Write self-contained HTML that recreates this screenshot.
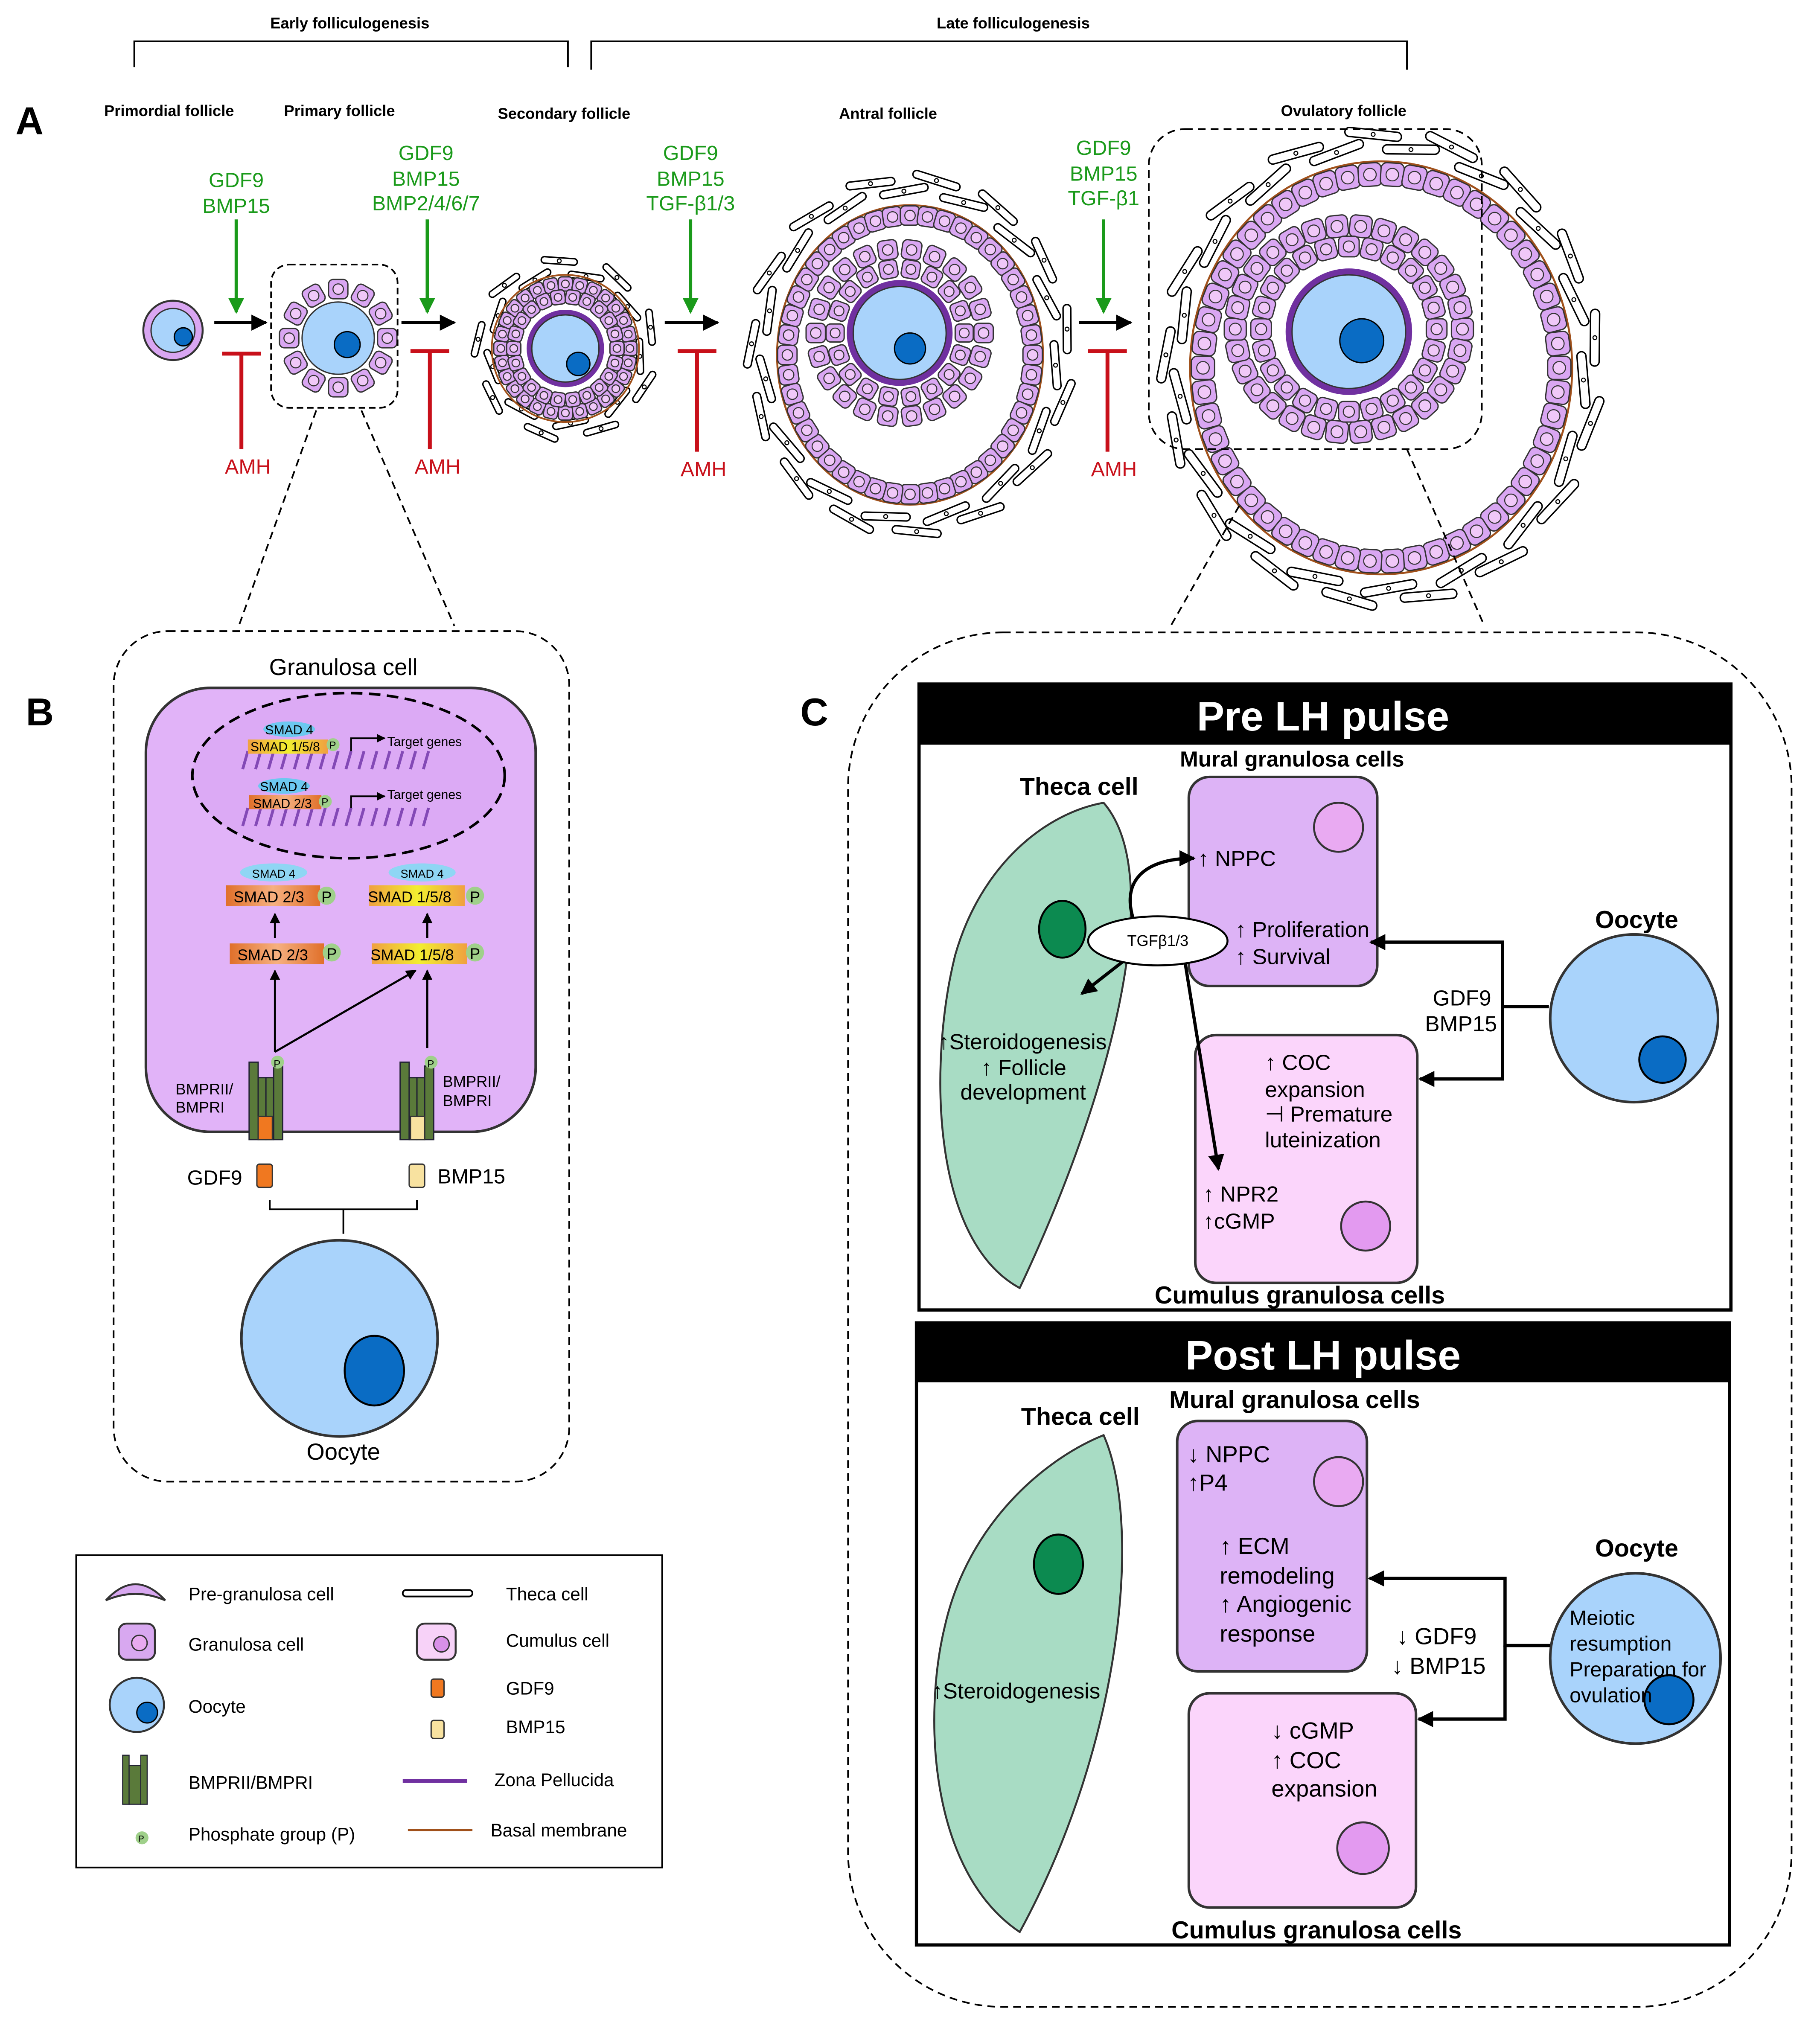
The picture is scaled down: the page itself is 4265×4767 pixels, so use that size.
<!DOCTYPE html>
<html><head><meta charset="utf-8">
<style>
html,body{margin:0;padding:0;background:#fff;}
svg{display:block;}
text{font-family:"Liberation Sans",Arial,sans-serif;}
</style></head>
<body>
<svg id="s" xmlns="http://www.w3.org/2000/svg" width="4265" height="4767" viewBox="0 0 1410 1576">
<defs>
<marker id="ah" viewBox="0 0 10 10" refX="9" refY="5" markerWidth="5" markerHeight="5" orient="auto-start-reverse"><path d="M0,0 L10,5 L0,10 z" fill="#000"/></marker>
<marker id="ahg" viewBox="0 0 10 10" refX="9" refY="5" markerWidth="5" markerHeight="5" orient="auto"><path d="M0,0 L10,5 L0,10 z" fill="#1a9a1a"/></marker>
<linearGradient id="og" x1="0" x2="1"><stop offset="0" stop-color="#e0702a"/><stop offset=".5" stop-color="#f6b080"/><stop offset="1" stop-color="#e0702a"/></linearGradient>
<linearGradient id="yg" x1="0" x2="1"><stop offset="0" stop-color="#f0a040"/><stop offset=".5" stop-color="#f2ee30"/><stop offset="1" stop-color="#f0a040"/></linearGradient>
</defs>

<g font-size="12" font-weight="bold" text-anchor="middle">
<text x="271" y="22">Early folliculogenesis</text>
<text x="785" y="22">Late folliculogenesis</text>
<text x="131" y="90">Primordial follicle</text>
<text x="263" y="90">Primary follicle</text>
<text x="437" y="92">Secondary follicle</text>
<text x="688" y="92">Antral follicle</text>
<text x="1041" y="90">Ovulatory  follicle</text>
</g>
<path d="M104,52 V32 H440 V52 M458,54 V32 H1090 V54" fill="none" stroke="#000" stroke-width="1.3"/>
<text x="12" y="104" font-size="30" font-weight="bold">A</text>

<g stroke="#000" stroke-width="2.5" marker-end="url(#ah)">
<line x1="166" y1="250" x2="206" y2="250"/>
<line x1="311" y1="250" x2="352" y2="250"/>
<line x1="515" y1="250" x2="556" y2="250"/>
<line x1="836" y1="250" x2="876" y2="250"/>
</g>
<g stroke="#1a9a1a" stroke-width="2.5" marker-end="url(#ahg)">
<line x1="183" y1="170" x2="183" y2="242"/>
<line x1="331" y1="170" x2="331" y2="242"/>
<line x1="535" y1="170" x2="535" y2="242"/>
<line x1="855" y1="170" x2="855" y2="242"/>
</g>
<g fill="#1a9a1a" font-size="16" text-anchor="middle">
<text x="183" y="145">GDF9</text><text x="183" y="165">BMP15</text>
<text x="330" y="124">GDF9</text><text x="330" y="144">BMP15</text><text x="330" y="163">BMP2/4/6/7</text>
<text x="535" y="124">GDF9</text><text x="535" y="144">BMP15</text><text x="535" y="163">TGF-β1/3</text>
<text x="855" y="120">GDF9</text><text x="855" y="140">BMP15</text><text x="855" y="159">TGF-β1</text>
</g>
<g stroke="#c8101a" stroke-width="3">
<path d="M172,274 H202 M187,274 V348"/>
<path d="M318,272 H348 M333,272 V348"/>
<path d="M525,272 H555 M540,272 V350"/>
<path d="M843,272 H873 M858,272 V350"/>
</g>
<g fill="#c8101a" font-size="16" text-anchor="middle">
<text x="192" y="367">AMH</text><text x="339" y="367">AMH</text><text x="545" y="369">AMH</text><text x="863" y="369">AMH</text>
</g>

<g id="foll"></g>

<rect x="210" y="205" width="98" height="111" rx="14" fill="none" stroke="#000" stroke-dasharray="5,3" stroke-width="1.3"/>
<rect x="890" y="100" width="258" height="248" rx="28" fill="none" stroke="#000" stroke-dasharray="6,4" stroke-width="1.3"/>
<g stroke="#000" stroke-dasharray="6,4" stroke-width="1.3">
<line x1="245" y1="318" x2="185" y2="485"/><line x1="280" y1="318" x2="352" y2="485"/>
<line x1="960" y1="392" x2="907" y2="485"/><line x1="1090" y1="348" x2="1150" y2="485"/>
</g>

<text x="20" y="562" font-size="30" font-weight="bold">B</text>
<rect x="88" y="489" width="353" height="659" rx="42" fill="none" stroke="#000" stroke-dasharray="6,4" stroke-width="1.3"/>
<text x="266" y="523" font-size="18" text-anchor="middle">Granulosa cell</text>
<rect x="113" y="533" width="302" height="344" rx="50" fill="#e1b3f8" stroke="#333" stroke-width="2"/>
<ellipse cx="270" cy="601" rx="121" ry="64" fill="#dcaaf5" stroke="#000" stroke-width="2" stroke-dasharray="9,5"/>
<g stroke="#7a3fb0" stroke-width="2.2" fill="none" opacity=".9">
<path d="M188,596 l4,-14 m6,14 l4,-14 m6,14 l4,-14 m6,14 l4,-14 m6,14 l4,-14 m6,14 l4,-14 m6,14 l4,-14 m6,14 l4,-14 m6,14 l4,-14 m6,14 l4,-14 m6,14 l4,-14 m6,14 l4,-14 m6,14 l4,-14 m6,14 l4,-14 m6,14 l4,-14"/>
<path d="M188,640 l4,-14 m6,14 l4,-14 m6,14 l4,-14 m6,14 l4,-14 m6,14 l4,-14 m6,14 l4,-14 m6,14 l4,-14 m6,14 l4,-14 m6,14 l4,-14 m6,14 l4,-14 m6,14 l4,-14 m6,14 l4,-14 m6,14 l4,-14 m6,14 l4,-14 m6,14 l4,-14"/>
</g>
<ellipse cx="224" cy="565" rx="20" ry="6" fill="#6cc8f0"/><text x="224" y="569" font-size="10" text-anchor="middle">SMAD 4</text>
<rect x="192" y="573" width="62" height="11" fill="url(#yg)"/><text x="194" y="582" font-size="10">SMAD 1/5/8</text>
<circle cx="258" cy="577" r="5" fill="#9fd08a"/><text x="255" y="580" font-size="8">P</text>
<path d="M272,582 V572 H298" stroke="#000" stroke-width="1.3" fill="none" marker-end="url(#ah)"/>
<text x="300" y="578" font-size="10">Target genes</text>
<ellipse cx="220" cy="609" rx="20" ry="6" fill="#6cc8f0"/><text x="220" y="613" font-size="10" text-anchor="middle">SMAD 4</text>
<rect x="193" y="616" width="56" height="11" fill="url(#og)"/><text x="196" y="626" font-size="10">SMAD 2/3</text>
<circle cx="252" cy="621" r="5" fill="#9fd08a"/><text x="249" y="624" font-size="8">P</text>
<path d="M272,626 V617 H298" stroke="#000" stroke-width="1.3" fill="none" marker-end="url(#ah)"/>
<text x="300" y="619" font-size="10">Target genes</text>

<ellipse cx="212" cy="676" rx="26" ry="7" fill="#8fd6f4"/><text x="212" y="680" font-size="9" text-anchor="middle">SMAD 4</text>
<ellipse cx="327" cy="676" rx="26" ry="7" fill="#8fd6f4"/><text x="327" y="680" font-size="9" text-anchor="middle">SMAD 4</text>
<rect x="175" y="686" width="73" height="16" fill="url(#og)"/><text x="181" y="699" font-size="12">SMAD 2/3</text>
<circle cx="253" cy="694" r="7" fill="#9fd08a"/><text x="249" y="699" font-size="12">P</text>
<rect x="286" y="686" width="74" height="16" fill="url(#yg)"/><text x="285" y="699" font-size="12">SMAD 1/5/8</text>
<circle cx="368" cy="694" r="7" fill="#9fd08a"/><text x="364" y="699" font-size="12">P</text>
<rect x="178" y="731" width="73" height="16" fill="url(#og)"/><text x="184" y="744" font-size="12">SMAD 2/3</text>
<circle cx="257" cy="738" r="7" fill="#9fd08a"/><text x="253" y="743" font-size="12">P</text>
<rect x="288" y="731" width="74" height="16" fill="url(#yg)"/><text x="287" y="744" font-size="12">SMAD 1/5/8</text>
<circle cx="368" cy="738" r="7" fill="#9fd08a"/><text x="364" y="743" font-size="12">P</text>
<g stroke="#000" stroke-width="1.6" marker-end="url(#ah)">
<line x1="213" y1="727" x2="213" y2="708"/><line x1="331" y1="727" x2="331" y2="708"/>
<line x1="213" y1="815" x2="213" y2="752"/><line x1="213" y1="815" x2="322" y2="752"/><line x1="331" y1="812" x2="331" y2="752"/>
</g>
<g fill="#5a7a3a" stroke="#223" stroke-width="1">
<rect x="193" y="823" width="7" height="60"/><rect x="200" y="835" width="6" height="48"/><rect x="206" y="835" width="6" height="48"/><rect x="212" y="826" width="7" height="57"/>
<rect x="310" y="823" width="7" height="60"/><rect x="317" y="835" width="6" height="48"/><rect x="323" y="835" width="6" height="48"/><rect x="329" y="826" width="7" height="57"/>
</g>
<rect x="200" y="865" width="11" height="18" fill="#f07820" stroke="#333"/>
<rect x="318" y="865" width="11" height="18" fill="#f8e2a0" stroke="#333"/>
<circle cx="215" cy="823" r="5" fill="#9fd08a"/><text x="212" y="827" font-size="8">P</text>
<circle cx="334" cy="823" r="5" fill="#9fd08a"/><text x="331" y="827" font-size="8">P</text>
<text x="136" y="848" font-size="12">BMPRII/</text><text x="136" y="862" font-size="12">BMPRI</text>
<text x="343" y="842" font-size="12">BMPRII/</text><text x="343" y="857" font-size="12">BMPRI</text>
<rect x="199" y="902" width="12" height="18" rx="2" fill="#f07820" stroke="#333"/>
<rect x="317" y="902" width="12" height="18" rx="2" fill="#f8e2a0" stroke="#333"/>
<text x="145" y="918" font-size="16">GDF9</text><text x="339" y="917" font-size="16">BMP15</text>
<path d="M209,930 V937 H323 V930 M266,937 V956" fill="none" stroke="#000" stroke-width="1.3"/>
<circle cx="263" cy="1037" r="76" fill="#a9d3fb" stroke="#333" stroke-width="2"/>
<ellipse cx="290" cy="1062" rx="23" ry="27" fill="#0a6cc4" stroke="#000" stroke-width="1.5"/>
<text x="266" y="1131" font-size="18" text-anchor="middle">Oocyte</text>

<rect x="59" y="1205" width="454" height="242" fill="#fff" stroke="#000" stroke-width="1.3"/>
<path d="M82,1240 Q105,1215 128,1240 Q105,1230 82,1240 z" fill="#d8a8f0" stroke="#333" stroke-width="1.5"/>
<rect x="92" y="1258" width="28" height="28" rx="6" fill="#d8a8f0" stroke="#333" stroke-width="1.5"/><circle cx="108" cy="1273" r="6" fill="#e8aaf0" stroke="#333"/>
<circle cx="106" cy="1321" r="21" fill="#a9d3fb" stroke="#333" stroke-width="1.5"/><circle cx="114" cy="1327" r="8" fill="#0a6cc4" stroke="#000"/>
<rect x="95" y="1360" width="5" height="38" fill="#5a7a3a" stroke="#223" stroke-width=".8"/><rect x="100" y="1368" width="9" height="30" fill="#5a7a3a" stroke="#223" stroke-width=".8"/><rect x="109" y="1360" width="5" height="38" fill="#5a7a3a" stroke="#223" stroke-width=".8"/>
<circle cx="110" cy="1424" r="5" fill="#9fd08a"/><text x="107" y="1427" font-size="7">P</text>
<rect x="312" y="1232" width="54" height="5" rx="2.5" fill="#fff" stroke="#000" stroke-width="1.3"/>
<rect x="323" y="1258" width="30" height="28" rx="6" fill="#f7d2f8" stroke="#333" stroke-width="1.5"/><circle cx="342" cy="1274" r="6" fill="#d890e8" stroke="#333"/>
<rect x="334" y="1301" width="10" height="14" rx="2" fill="#f07820" stroke="#333"/>
<rect x="334" y="1333" width="10" height="14" rx="2" fill="#f8e2a0" stroke="#333"/>
<line x1="312" y1="1380" x2="362" y2="1380" stroke="#7030a0" stroke-width="3"/>
<line x1="316" y1="1418" x2="366" y2="1418" stroke="#a0501a" stroke-width="1.5"/>
<g font-size="14">
<text x="146" y="1240">Pre-granulosa cell</text><text x="146" y="1279">Granulosa cell</text><text x="146" y="1327">Oocyte</text>
<text x="146" y="1386">BMPRII/BMPRI</text><text x="146" y="1426">Phosphate group (P)</text>
<text x="392" y="1240">Theca cell</text><text x="392" y="1276">Cumulus cell</text><text x="392" y="1313">GDF9</text>
<text x="392" y="1343">BMP15</text><text x="383" y="1384">Zona Pellucida</text><text x="380" y="1423">Basal membrane</text>
</g>

<text x="620" y="562" font-size="30" font-weight="bold">C</text>
<rect x="657" y="490" width="731" height="1065" rx="120" fill="none" stroke="#000" stroke-dasharray="6,4" stroke-width="1.3"/>

<rect x="712" y="530" width="629" height="485" fill="#fff" stroke="#000" stroke-width="2.5"/>
<rect x="712" y="530" width="629" height="47" fill="#000"/>
<text x="1025" y="566" font-size="32" font-weight="bold" fill="#fff" text-anchor="middle">Pre LH pulse</text>
<text x="1001" y="594" font-size="17" font-weight="bold" text-anchor="middle">Mural granulosa cells</text>
<text x="836" y="616" font-size="19" font-weight="bold" text-anchor="middle">Theca cell</text>
<path d="M855,622 C905,680 860,850 790,998 C720,960 720,820 740,740 C760,670 810,630 855,622 z" fill="#a8dcc4" stroke="#333" stroke-width="1.5"/>
<ellipse cx="823" cy="720" rx="18" ry="22" fill="#0c8a50" stroke="#000" stroke-width="1.5"/>
<rect x="921" y="602" width="146" height="162" rx="16" fill="#ddb3f6" stroke="#333" stroke-width="2"/>
<circle cx="1037" cy="641" r="19" fill="#e9aaf2" stroke="#333" stroke-width="1.5"/>
<rect x="926" y="802" width="172" height="192" rx="16" fill="#fbd5fb" stroke="#333" stroke-width="2"/>
<circle cx="1058" cy="950" r="19" fill="#e39af0" stroke="#333" stroke-width="1.5"/>
<circle cx="1266" cy="789" r="65" fill="#a9d3fb" stroke="#333" stroke-width="2"/>
<circle cx="1288" cy="821" r="18" fill="#0a6cc4" stroke="#000" stroke-width="1.5"/>
<text x="1268" y="719" font-size="19" font-weight="bold" text-anchor="middle">Oocyte</text>
<text x="1007" y="1010" font-size="19" font-weight="bold" text-anchor="middle">Cumulus granulosa cells</text>
<g stroke="#000" stroke-width="2.5" fill="none">
<path d="M1200,780 H1164 V730 H1062" marker-end="url(#ah)"/>
<path d="M1164,780 V836 H1100" marker-end="url(#ah)"/>
<path d="M878,712 C868,680 890,665 925,665" marker-end="url(#ah)"/>
<path d="M870,745 L838,770" marker-end="url(#ah)"/>
<path d="M918,745 L944,906" marker-end="url(#ah)"/>
</g>
<ellipse cx="897" cy="729" rx="54" ry="19" fill="#fff" stroke="#000" stroke-width="1.5"/>
<text x="897" y="733" font-size="12" text-anchor="middle">TGFβ1/3</text>
<g font-size="17">
<text x="928" y="671">↑ NPPC</text>
<text x="957" y="726">↑ Proliferation</text><text x="957" y="747">↑ Survival</text>
<text x="1110" y="779">GDF9</text><text x="1104" y="799">BMP15</text>
<text x="980" y="829">↑ COC</text><text x="980" y="850">expansion</text><text x="980" y="869">⊣ Premature</text><text x="980" y="889">luteinization</text>
<text x="932" y="931">↑ NPR2</text><text x="932" y="952">↑cGMP</text>
<text x="727" y="813">↑Steroidogenesis</text><text x="760" y="833">↑ Follicle</text><text x="744" y="852">development</text>
</g>

<rect x="710" y="1025" width="630" height="482" fill="#fff" stroke="#000" stroke-width="2.5"/>
<rect x="710" y="1025" width="630" height="46" fill="#000"/>
<text x="1025" y="1061" font-size="32" font-weight="bold" fill="#fff" text-anchor="middle">Post LH pulse</text>
<text x="1003" y="1091" font-size="19" font-weight="bold" text-anchor="middle">Mural granulosa cells</text>
<text x="837" y="1104" font-size="19" font-weight="bold" text-anchor="middle">Theca cell</text>
<path d="M855,1112 C885,1180 870,1350 790,1497 C720,1450 715,1330 732,1260 C750,1180 810,1130 855,1112 z" fill="#a8dcc4" stroke="#333" stroke-width="1.5"/>
<ellipse cx="820" cy="1212" rx="19" ry="23" fill="#0c8a50" stroke="#000" stroke-width="1.5"/>
<rect x="912" y="1101" width="147" height="194" rx="16" fill="#ddb3f6" stroke="#333" stroke-width="2"/>
<circle cx="1037" cy="1148" r="19" fill="#e9aaf2" stroke="#333" stroke-width="1.5"/>
<rect x="921" y="1312" width="176" height="166" rx="16" fill="#fbd5fb" stroke="#333" stroke-width="2"/>
<circle cx="1056" cy="1432" r="20" fill="#e39af0" stroke="#333" stroke-width="1.5"/>
<circle cx="1267" cy="1285" r="66" fill="#a9d3fb" stroke="#333" stroke-width="2"/>
<circle cx="1293" cy="1317" r="19" fill="#0a6cc4" stroke="#000" stroke-width="1.5"/>
<text x="1268" y="1206" font-size="19" font-weight="bold" text-anchor="middle">Oocyte</text>
<text x="1020" y="1502" font-size="19" font-weight="bold" text-anchor="middle">Cumulus granulosa cells</text>
<g stroke="#000" stroke-width="2.5" fill="none">
<path d="M1201,1275 H1166 V1223 H1061" marker-end="url(#ah)"/>
<path d="M1166,1275 V1332 H1099" marker-end="url(#ah)"/>
</g>
<g font-size="18">
<text x="920" y="1133">↓ NPPC</text><text x="920" y="1155">↑P4</text>
<text x="945" y="1204">↑ ECM</text><text x="945" y="1227">remodeling</text><text x="945" y="1249">↑ Angiogenic</text><text x="945" y="1272">response</text>
<text x="1082" y="1274">↓ GDF9</text><text x="1078" y="1297">↓ BMP15</text>
<text x="985" y="1347">↓ cGMP</text><text x="985" y="1370">↑ COC</text><text x="985" y="1392">expansion</text>
<text x="722" y="1316" font-size="17">↑Steroidogenesis</text>
</g>
<g font-size="16"><text x="1216" y="1259">Meiotic</text><text x="1216" y="1279">resumption</text><text x="1216" y="1299">Preparation for</text><text x="1216" y="1319">ovulation</text></g>
</svg>
<script>
(function(){
var NS="http://www.w3.org/2000/svg",g=document.getElementById("foll");
function el(t,a){var e=document.createElementNS(NS,t);for(var k in a)e.setAttribute(k,a[k]);g.appendChild(e);return e;}
function gcell(x,y,s,ang){el("rect",{x:x-s/2,y:y-s/2,width:s,height:s,rx:s*.25,fill:"#d9a6f2",stroke:"#333","stroke-width":1,transform:"rotate("+ang+" "+x+" "+y+")"});
el("circle",{cx:x,cy:y,r:s*.27,fill:"#f0c8f8",stroke:"#333","stroke-width":.8});}
function ring(cx,cy,rx,ry,n,s){for(var i=0;i<n;i++){var a=2*Math.PI*i/n;gcell(cx+rx*Math.cos(a),cy+ry*Math.sin(a),s,a*180/Math.PI);}}
function theca(cx,cy,rx,ry,n,L,W,off){for(var i=0;i<n;i++){var a=2*Math.PI*(i+off)/n;var j=(i%2)?1:-1;var x=cx+(rx+j*5)*Math.cos(a),y=cy+(ry+j*5)*Math.sin(a);
var ang=a*180/Math.PI+90+j*8;
el("rect",{x:x-L/2,y:y-W/2,width:L,height:W,rx:W/2,fill:"#fff",stroke:"#000","stroke-width":1.1,transform:"rotate("+ang+" "+x+" "+y+")"});
el("circle",{cx:x,cy:y,r:1.5,fill:"#fff",stroke:"#000","stroke-width":.8});}}
function oo(cx,cy,r,nx,ny,nr,z){if(z)el("circle",{cx:cx,cy:cy,r:r+z,fill:"#7030a0"});el("circle",{cx:cx,cy:cy,r:r,fill:"#a9d3fb",stroke:"#333","stroke-width":1});el("circle",{cx:nx,cy:ny,r:nr,fill:"#0a6cc4",stroke:"#000","stroke-width":1});}
el("circle",{cx:134,cy:256,r:23,fill:"#d9a6f2",stroke:"#333","stroke-width":1.5});oo(134,256,17,142,261,7,0);
ring(262,262,38,38,12,15);oo(262,262,28,269,267,10,0);
theca(438,270,63,63,18,28,5,.3);
el("circle",{cx:438,cy:270,r:57,fill:"none",stroke:"#a0501a","stroke-width":1.3});
ring(438,270,50,50,28,11);ring(438,270,40,40,22,11);oo(438,270,26,448,282,9,4);
theca(705,275,118,132,30,38,6,.3);
el("ellipse",{cx:705,cy:275,rx:103,ry:116,fill:"none",stroke:"#a0501a","stroke-width":1.5});
ring(705,275,95,108,44,15);ring(697,258,65,65,22,15);ring(697,258,50,50,18,14);oo(697,258,36,705,270,12,5);
theca(1070,285,162,176,34,44,7,.3);
el("ellipse",{cx:1070,cy:285,rx:148,ry:160,fill:"none",stroke:"#a0501a","stroke-width":1.5});
ring(1070,285,138,150,50,18);ring(1045,255,88,80,30,17);ring(1045,255,68,64,24,16);oo(1045,257,44,1055,264,17,5);
})();
</script>
</body></html>
